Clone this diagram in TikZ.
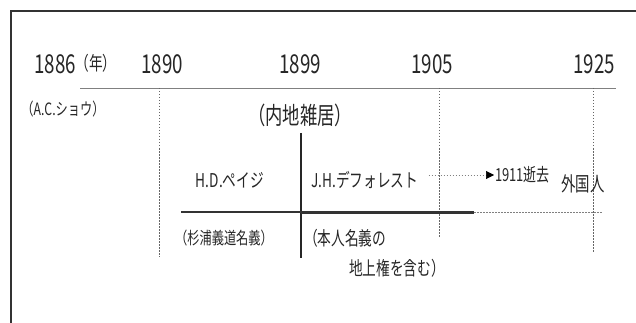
\documentclass[tikz,border=0pt]{standalone}
\usepackage{fontspec}
\newfontfamily\jp{Noto Sans CJK JP}[FakeStretch=0.72]
\usetikzlibrary{arrows.meta}
\begin{document}
\begin{tikzpicture}[x=1pt,y=-1pt,
  every node/.style={inner sep=0pt,text=black!85},
  year/.style={font=\jp\fontsize{26}{26}\selectfont},
  lbl/.style={font=\jp\fontsize{19}{19}\selectfont},
  sml/.style={font=\jp\fontsize{17}{17}\selectfont},
  frame/.style={draw=black!80,line width=1.4pt},
  axis/.style={draw=black!50,line width=0.7pt},
  guide/.style={draw=black!60,line width=0.6pt,dash pattern=on 1.5pt off 1.5pt},
  bar/.style={draw=black!85,line width=2pt},
  thin/.style={draw=black!80,line width=1.1pt},
  thick/.style={draw=black!80,line width=3pt}]
\useasboundingbox (0,0) rectangle (636,323);
% frame
\coordinate (fbl) at (11,323); \coordinate (ftl) at (11,11); \coordinate (ftr) at (636,11);
\draw[frame] (fbl) -- (ftl) -- (ftr);
% years
\node[year] (y1886) at (55,64) {1886};
\node[font=\jp\fontsize{19}{19}\selectfont] (nen) at (96,63) {（年）};
\node[year] (y1890) at (162,64) {1890};
\node[year] (y1899) at (300,64) {1899};
\node[year] (y1905) at (432,64) {1905};
\node[year] (y1925) at (594,64) {1925};
% time axis
\coordinate (axL) at (80,88); \coordinate (axR) at (616,88);
\draw[axis] (axL) -- (axR);
\coordinate (g1890a) at (159,88); \coordinate (g1890b) at (159,257);
\coordinate (g1905a) at (439,88); \coordinate (g1905b) at (439,238);
\coordinate (g1925a) at (593,88); \coordinate (g1925b) at (593,253);
\draw[guide] (g1890a) -- (g1890b);
\draw[guide] (g1905a) -- (g1905b);
\draw[guide] (g1925a) -- (g1925b);
% labels
\node[sml] (shaw) at (63,109) {（A.C.ショウ）};
\node[font=\jp\fontsize{24}{24}\selectfont] (naichi) at (300,115) {（内地雑居）};
\coordinate (vt) at (301,133); \coordinate (vb) at (301,258);
\draw[bar] (vt) -- (vb);
\node[lbl] (hd) at (230,180) {H.D.ペイジ};
\node[lbl] (jh) at (365,180) {J.H.デフォレスト};
\node[font=\jp\fontsize{18}{18}\selectfont,anchor=west] (d1911) at (495,175) {1911逝去};
\draw[guide,draw=black!50,-{Triangle[length=8pt,width=8pt,color=black]}] ([xshift=10pt,yshift=5pt]jh.east) -- ([xshift=-1pt]d1911.west);
\node[font=\jp\fontsize{20}{20}\selectfont] (gaikoku) at (583,184) {外国人};
% horizontal split
\coordinate (hL) at (181,212); \coordinate (hM) at (301,212);
\coordinate (hT) at (474,212); \coordinate (hR) at (603,212);
\draw[thin] (hL) -- (hM);
\draw[thick] (hM) -- (hT);
\draw[guide,draw=black!50] (hT) -- (hR);
\node[sml] (sugi) at (224,238) {（杉浦義道名義）};
\node[lbl,anchor=west] (hon1) at (304,238) {（本人名義の};
\node[lbl,anchor=west] (hon2) at (349,268) {地上権を含む）};
\end{tikzpicture}
\end{document}
